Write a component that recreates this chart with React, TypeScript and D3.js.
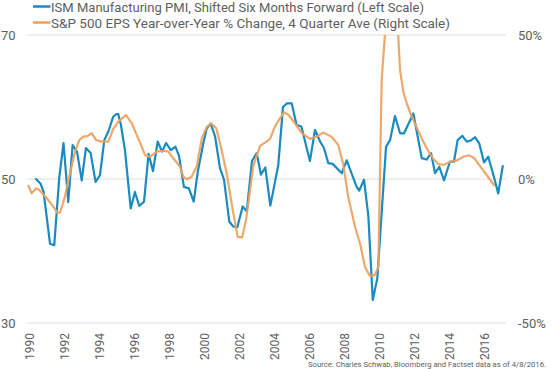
import React from "react";
import * as d3 from "d3";

// ISM Manufacturing PMI, shifted six months forward (left scale)
const ismYears = [
  1990.36, 1990.63, 1990.79, 1991.16, 1991.4, 1991.69, 1991.93, 1992.2, 1992.45, 1992.7,
  1992.97, 1993.21, 1993.48, 1993.76, 1994.01, 1994.26, 1994.49, 1994.77, 1994.93, 1995.06,
  1995.21, 1995.44, 1995.77, 1996.01, 1996.26, 1996.53, 1996.79, 1997.04, 1997.31, 1997.56,
  1997.79, 1998.06, 1998.32, 1998.53, 1998.81, 1999.09, 1999.37, 1999.6, 1999.92, 2000.11,
  2000.34, 2000.59, 2000.87, 2001.1, 2001.4, 2001.63, 2001.86, 2002.17, 2002.4, 2002.7,
  2002.97, 2003.21, 2003.46, 2003.75, 2004.2, 2004.47, 2004.7, 2004.97, 2005.25, 2005.52,
  2006.01, 2006.3, 2006.59, 2006.81, 2007.06, 2007.31, 2007.83, 2008.11, 2008.68, 2008.83,
  2009.1, 2009.35, 2009.6, 2009.86, 2010.36, 2010.59, 2010.87, 2011.16, 2011.39, 2011.92,
  2012.4, 2012.68, 2012.93, 2013.16, 2013.4, 2013.67, 2014.01, 2014.24, 2014.45, 2014.72,
  2014.97, 2015.21, 2015.44, 2015.69, 2015.96, 2016.2, 2016.49, 2016.77, 2017.03,
];
const ismValues = [
  50.0, 49.3, 48.2, 41.0, 40.8, 50.3, 55.0, 46.8, 54.7, 53.8,
  49.8, 54.3, 53.6, 49.6, 50.5, 55.4, 56.6, 58.65, 59.0, 59.0,
  57.5, 54.0, 45.9, 48.2, 46.25, 46.85, 53.5, 51.1, 55.2, 53.8,
  55.0, 54.0, 54.5, 53.2, 48.9, 48.7, 46.85, 51.0, 55.0, 57.0,
  57.7, 55.9, 51.5, 49.9, 44.1, 43.4, 43.3, 46.2, 45.5, 52.5,
  53.6, 50.6, 51.6, 46.3, 51.9, 60.0, 60.5, 60.5, 57.5, 57.3,
  52.5, 56.8, 55.2, 54.3, 52.2, 52.1, 50.8, 52.6, 48.9, 48.4,
  49.9, 44.8, 33.2, 36.2, 54.5, 55.4, 58.75, 56.35, 56.35, 59.1,
  52.9, 52.7, 53.6, 50.8, 51.7, 49.8, 52.4, 52.4, 55.4, 56.0,
  55.2, 55.35, 55.8, 54.9, 52.3, 53.1, 50.6, 48.0, 51.8,
];

// S&P 500 EPS year-over-year % change, 4 quarter average (right scale)
const epsYears = [
  1989.92, 1990.11, 1990.36, 1990.55, 1990.68, 1990.97, 1991.35, 1991.57, 1991.73, 1992.01,
  1992.3, 1992.59, 1992.83, 1993.06, 1993.29, 1993.54, 1993.79, 1994.11, 1994.49, 1994.77,
  1995.06, 1995.5, 1995.83, 1996.11, 1996.4, 1996.59, 1996.87, 1997.25, 1997.63, 1997.92,
  1998.2, 1998.59, 1998.77, 1998.97, 1999.25, 1999.54, 1999.83, 2000.11, 2000.36, 2000.66,
  2000.97, 2001.25, 2001.6, 2001.88, 2002.13, 2002.36, 2002.49, 2002.77, 2003.16, 2003.47,
  2003.73, 2004.01, 2004.24, 2004.53, 2004.77, 2005.16, 2005.54, 2006.01, 2006.4, 2006.77,
  2007.25, 2007.63, 2007.92, 2008.2, 2008.59, 2008.87, 2009.16, 2009.44, 2009.73, 2009.92,
  2010.11, 2010.73, 2011.16, 2011.35, 2011.54, 2011.79, 2012.11, 2012.4, 2012.68, 2013.03,
  2013.35, 2013.67, 2014.01, 2014.4, 2014.81, 2015.1, 2015.39, 2015.73, 2016.11, 2016.53,
];
const epsValues = [
  -2.4, -5.0, -3.2, -3.8, -4.8, -6.7, -9.6, -11.7, -11.7, -6.1,
  2.0, 9.5, 13.5, 14.7, 14.9, 15.9, 13.5, 13.0, 13.0, 17.3,
  19.9, 22.2, 19.3, 15.3, 11.2, 8.3, 7.7, 9.5, 9.8, 9.5,
  7.2, 4.3, 0.8, -0.1, 0.8, 4.3, 14.1, 18.0, 19.3, 17.6,
  9.9, 2.0, -10.8, -20.1, -20.3, -14.2, -8.4, 4.5, 11.5, 12.7,
  13.9, 18.2, 20.5, 23.1, 22.4, 19.3, 15.9, 13.9, 14.7, 16.1,
  14.7, 11.8, 4.9, -6.25, -16.7, -22.3, -30.6, -33.7, -33.3, -30.5,
  34.4, 86.5, 37.8, 30.2, 26.3, 22.2, 17.9, 14.1, 10.7, 7.2,
  5.2, 4.9, 6.0, 6.4, 7.8, 8.2, 7.3, 4.5, 1.4, -2.1,
];

const xTickYears = [1990, 1992, 1994, 1996, 1998, 2000, 2002, 2004, 2006, 2008, 2010, 2012, 2014, 2016];
const leftTicks = [30, 50, 70];
const rightTicks = [-50, 0, 50];
const legendLabels = [
  "ISM Manufacturing PMI, Shifted Six Months Forward (Left Scale)",
  "S&P 500 EPS Year-over-Year % Change, 4 Quarter Ave (Right Scale)",
];
const sourceText = "Source: Charles Schwab, Bloomberg and Factset data as of 4/8/2016.";

const BLUE = "#1a8bc1";
const ORANGE = "#eda15e";
const TEXT = "#5e5e5e";
const FONT = "Roboto, 'Open Sans', sans-serif";

export default function App() {
  const W = 553;
  const H = 369;
  const x = d3.scaleLinear().domain([1990, 2016]).range([29.75, 484.75]);
  const yL = d3.scaleLinear().domain([30, 70]).range([323, 35]);
  const yR = d3.scaleLinear().domain([-50, 50]).range([323, 35]);

  const ismLine = d3
    .line<number>()
    .x((_, i) => x(ismYears[i]))
    .y((d) => yL(d));
  const epsLine = d3
    .line<number>()
    .x((_, i) => x(epsYears[i]))
    .y((d) => yR(d));

  const gridX0 = 28;
  const gridX1 = 506;

  return (
    <div style={{ position: "absolute", left: 0, top: 0 }}>
      <svg width={W} height={H} style={{ display: "block", background: "#fff" }} fontFamily={FONT}>
        <defs>
          <clipPath id="plotClip">
            <rect x={0} y={yL(70)} width={W} height={yL(30) - yL(70)} />
          </clipPath>
        </defs>

        {leftTicks.map((t) => (
          <line key={"g" + t} x1={gridX0} x2={gridX1} y1={yL(t)} y2={yL(t)} stroke="#dcdcdc" strokeWidth={1} />
        ))}

        {leftTicks.map((t) => (
          <text key={"l" + t} x={15.5} y={yL(t)} dy="0.35em" textAnchor="end" fontSize={13} fill={TEXT}>
            {t}
          </text>
        ))}
        {rightTicks.map((t) => (
          <text key={"r" + t} x={518} y={yR(t)} dy="0.35em" textAnchor="start" fontSize={13} fill={TEXT}>
            {t + "%"}
          </text>
        ))}

        {xTickYears.map((yr) => (
          <text
            key={"x" + yr}
            transform={`translate(${x(yr)},333) rotate(-90)`}
            dy="0.35em"
            textAnchor="end"
            fontSize={12}
            fill={TEXT}
          >
            {yr}
          </text>
        ))}

        <g clipPath="url(#plotClip)" fill="none" strokeLinejoin="round" strokeLinecap="round">
          <path d={ismLine(ismValues) || ""} stroke={BLUE} strokeWidth={2.2} />
          <path d={epsLine(epsValues) || ""} stroke={ORANGE} strokeWidth={2.2} opacity={0.92} />
        </g>

        <line x1={33} x2={50.5} y1={6.5} y2={6.5} stroke={BLUE} strokeWidth={2.5} />
        <text x={51} y={12} fontSize={13} fill={TEXT} textLength={373} lengthAdjust="spacingAndGlyphs">
          {legendLabels[0]}
        </text>
        <line x1={33} x2={50.5} y1={22.5} y2={22.5} stroke={ORANGE} strokeWidth={2.5} />
        <text x={51} y={27.8} fontSize={13.3} fill={TEXT} textLength={399} lengthAdjust="spacingAndGlyphs">
          {legendLabels[1]}
        </text>

        <text x={308} y={366.5} fontSize={7.5} fill={TEXT} textLength={238} lengthAdjust="spacingAndGlyphs">
          {sourceText}
        </text>
      </svg>
    </div>
  );
}
